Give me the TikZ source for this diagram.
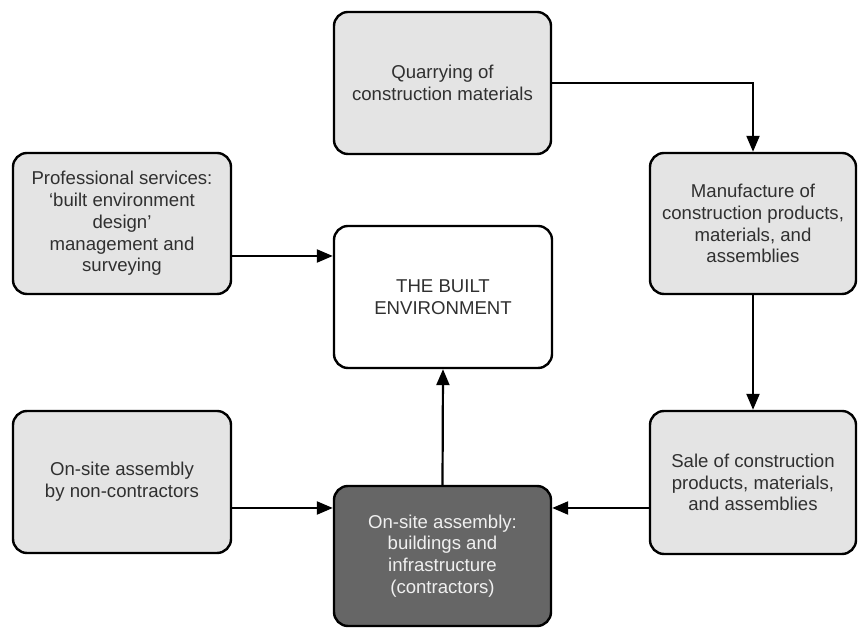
\documentclass[tikz,border=0pt]{standalone}
\usepackage{fontspec}
\setmainfont{Liberation Sans}
\usetikzlibrary{arrows.meta}
\definecolor{boxfill}{HTML}{E4E4E4}
\definecolor{darkfill}{HTML}{666666}
\definecolor{inktext}{HTML}{303030}
\begin{document}
\begin{tikzpicture}[x=1pt,y=1pt,
  box/.style={draw=black, line width=2.4pt, rounded corners=14pt, fill=boxfill,
    text=inktext, align=center, inner sep=2pt,
    font=\fontsize{18.6}{21.8}\selectfont},
  hub/.style={box, fill=white},
  core/.style={box, fill=darkfill, text=white!94!black},
  arr/.style={line width=2.2pt, -{Triangle[length=16pt,width=13pt]}}]
\useasboundingbox (0,0) rectangle (859,628);

% boxes
\node[box, minimum width=217pt, minimum height=142pt] (quarry) at (442.5,545)
  {Quarrying of\\construction materials};
\node[box, minimum width=206pt, minimum height=141pt] (manu) at (753,404.5)
  {Manufacture of\\construction products,\\materials, and\\assemblies};
\node[box, minimum width=206pt, minimum height=143pt] (sale) at (753,145.5)
  {Sale of construction\\products, materials,\\and assemblies};
\node[box, minimum width=218pt, minimum height=141pt] (prof) at (122,404.5)
  {Professional services:\\`built environment\\design'\\management and\\surveying};
\node[hub, minimum width=218pt, minimum height=142pt] (built) at (443,331)
  {THE BUILT\\ENVIRONMENT};
\node[box, minimum width=218pt, minimum height=142pt] (non) at (122,146)
  {On-site assembly\\by non-contractors};
\node[core, minimum width=217pt, minimum height=140pt] (contr) at (442.5,72)
  {On-site assembly:\\buildings and\\infrastructure\\(contractors)};

% connectors
\draw[arr] (quarry.east) -| (manu.north);
\draw[arr] (manu.south) -- (sale.north);
\draw[arr] (sale.west |- 0,120) -- (contr.east |- 0,120);
\draw[arr] (non.east |- 0,120) -- (contr.west |- 0,120);
\draw[arr] (contr.north) -- (built.south);
\draw[arr] (prof.east |- 0,372) -- (built.west |- 0,372);
\end{tikzpicture}
\end{document}
